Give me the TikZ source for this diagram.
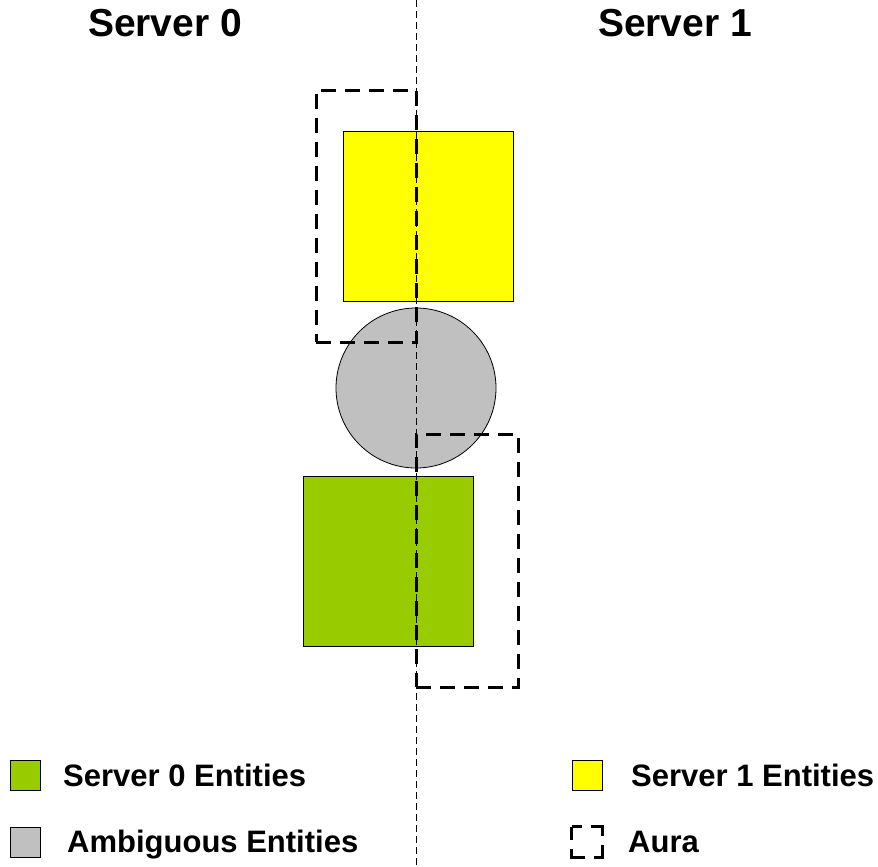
\documentclass[tikz,border=0pt]{standalone}
\usepackage{fontspec}
\setmainfont{Liberation Sans}
\definecolor{srvgreen}{HTML}{99CC00}
\definecolor{srvyellow}{HTML}{FFFF00}
\definecolor{ambgrey}{HTML}{C0C0C0}
\tikzset{
  entity/.style={draw,line width=0.8pt,minimum width=170pt,minimum height=170pt,inner sep=0pt},
  aura/.style={draw,line width=3pt,dash pattern=on 15pt off 9pt,inner sep=0pt},
  divider/.style={line width=0.9pt,dash pattern=on 7pt off 4pt},
  title/.style={font=\fontsize{39}{46}\selectfont\bfseries},
  legtext/.style={font=\fontsize{31}{36}\selectfont\bfseries,anchor=base west,inner sep=0pt},
  legbox/.style={draw,line width=0.8pt,minimum size=30pt,inner sep=0pt},
}
\begin{document}
\begin{tikzpicture}[x=1pt,y=-1pt]
\useasboundingbox (0,0) rectangle (878,867);

\node[title] (srv0) at (165,23) {Server 0};
\node[title] (srv1) at (675,23) {Server 1};

% entities
\node[entity,fill=srvyellow] (yel) at (428,216) {};
\node[draw,line width=0.8pt,circle,fill=ambgrey,minimum size=160pt,inner sep=0pt] (amb) at (416,388) {};
\node[entity,fill=srvgreen] (grn) at (388,561) {};

% split between the two servers
\coordinate (ctop) at (416,0);
\coordinate (cbot) at (416,867);
\draw[divider] (ctop) -- (cbot);

% auras
\node[aura,minimum width=100pt,minimum height=252pt] (aura0) at (366,216) {};
\node[aura,minimum width=102pt,minimum height=253pt] (aura1) at (467,560.5) {};

% legend
\node[legbox,fill=srvgreen] (lgrn) at (25,775) {};
\node[legtext] (tgrn) at (63,786) {Server 0 Entities};
\node[legbox,fill=ambgrey] (lamb) at (25,842) {};
\node[legtext] (tamb) at (67,852) {Ambiguous Entities};
\node[legbox,fill=srvyellow] (lyel) at (587,775) {};
\node[legtext] (tyel) at (631,786) {Server 1 Entities};
\node[legbox,draw=none] (laura) at (587,842) {};
\draw[line width=2.5pt,dash pattern=on 21pt off 9pt,dash phase=10.5pt]
  (laura.north west) -- (laura.north east) -- (laura.south east) -- (laura.south west) -- cycle;
\node[legtext] (taura) at (628,852) {Aura};
\end{tikzpicture}
\end{document}
